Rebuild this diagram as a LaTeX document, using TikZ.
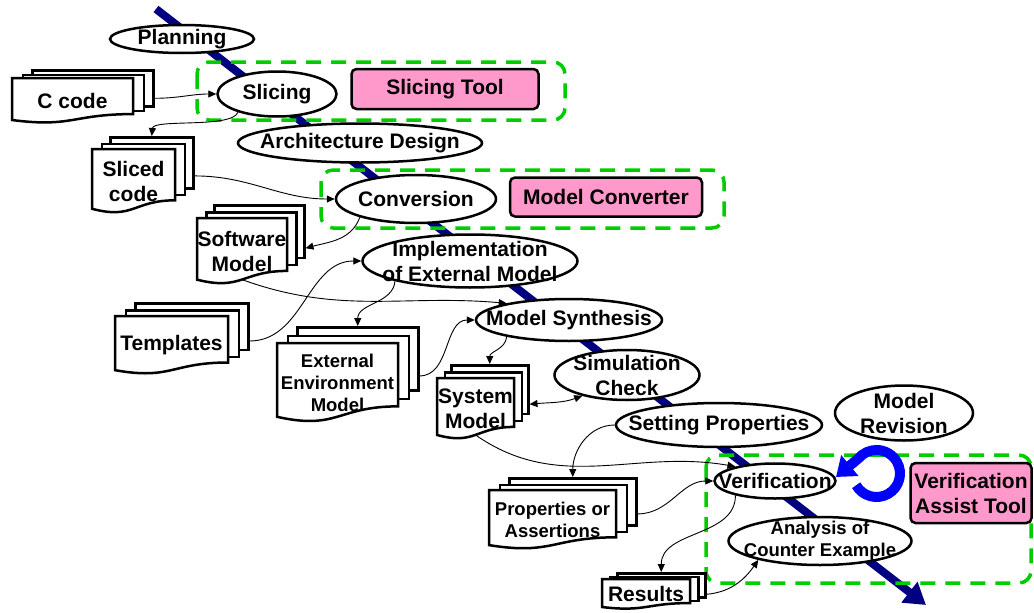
\documentclass[tikz,border=0pt]{standalone}
\usepackage{fontspec}
\setmainfont{Liberation Sans}
\usepackage{tikz}
\usetikzlibrary{arrows.meta, shapes.geometric}

\definecolor{spine}{RGB}{0,0,128}
\definecolor{toolpink}{RGB}{255,153,204}
\definecolor{grpgreen}{RGB}{0,204,0}

\tikzset{
  proc/.style={draw, ellipse, fill=white, line width=2.5pt, inner sep=0pt},
  lbl/.style={font=\fontsize{21}{25}\selectfont\bfseries, align=center, inner sep=0pt},
  slbl/.style={font=\fontsize{18.5}{22}\selectfont\bfseries, align=center, inner sep=0pt},
  tool/.style={draw, fill=toolpink, rounded corners=5pt, line width=2.5pt, font=\fontsize{21}{25}\selectfont\bfseries, align=center, inner sep=2pt},
  grp/.style={draw=grpgreen, line width=3.5pt, dash pattern=on 15pt off 10pt, rounded corners=12pt},
  sheet/.style={draw, fill=white, line width=2.5pt, inner sep=0pt, anchor=north west},
  link/.style={line width=0.9pt, -{Triangle[length=8pt, width=7pt]}},
  dlink/.style={line width=0.9pt, {Triangle[length=8pt, width=7pt]}-{Triangle[length=8pt, width=7pt]}},
}

% stack of three documents: name, x, y, width, height, dx, dy, text style, text
\newcommand{\docstack}[9]{%
  \node[sheet, minimum width=#4pt, minimum height=0.802*#5pt] (#1-b) at (#2+2*#6, #3-2*#7) {};
  \node[sheet, minimum width=#4pt, minimum height=0.802*#5pt] (#1-m) at (#2+#6, #3-#7) {};
  \filldraw[fill=white, line width=2.5pt] (#2,#3) -- (#2+#4,#3) -- (#2+#4,#3+0.802*#5)
    .. controls (#2+#4/2,#3+0.802*#5) and (#2+#4/2,#3+1.107*#5) .. (#2,#3+0.934*#5) -- cycle;
  \coordinate (#1-s) at (#2+#4/2, #3+0.933*#5);
  \node[#8] (#1) at (#2+#4/2, #3+#5/2) {#9};
}

\begin{document}
\begin{tikzpicture}[x=1pt, y=-1pt]
\useasboundingbox (0,0) rectangle (1034,613);

% process flow
\coordinate (top) at (156,9);
\coordinate (tip) at (926,605);
\draw[spine, line width=8pt, -{Triangle[length=21pt, width=25pt]}] (top) -- (tip);

% tool groups
\draw[grp] (197,62) rectangle (565,120);
\draw[grp] (321,170) rectangle (724,228);
\draw[grp] (706,455) rectangle (1031,583);

% documents
\docstack{ccode}{12}{78}{121}{45}{9.5}{4.5}{lbl}{C code}
\docstack{sliced}{92}{149}{83}{64}{8.5}{6.5}{lbl}{Sliced\\code}
\docstack{soft}{197}{218}{90}{66}{8}{7}{lbl}{Software\\Model}
\docstack{tmpl}{115}{316}{113}{58}{9.5}{7}{lbl}{Templates}
\docstack{eem}{277}{343}{121}{79}{9.5}{8.5}{slbl}{External\\Environment\\Model}
\docstack{sys}{437}{378}{77}{61}{6.5}{7}{lbl}{System\\Model}
\docstack{prop}{489}{490}{127}{59}{9.5}{6.5}{slbl}{Properties or\\Assertions}
\docstack{res}{602}{579}{88}{30}{7}{3.5}{lbl}{Results}

% steps
\node[proc, minimum width=144pt, minimum height=28pt, label={[lbl]center:Planning}] (plan) at (182,39) {};
\node[proc, minimum width=119pt, minimum height=45pt, label={[lbl]center:Slicing}] (slic) at (277,94) {};
\node[proc, minimum width=244pt, minimum height=39pt, label={[lbl]center:Architecture Design}] (arch) at (360,143) {};
\node[proc, minimum width=160pt, minimum height=48pt, label={[lbl]center:Conversion}] (conv) at (416,199) {};
\node[proc, minimum width=215pt, minimum height=53pt, label={[lbl]center:{Implementation\\of External Model}}] (impl) at (470,261) {};
\node[proc, minimum width=186pt, minimum height=42pt, label={[lbl]center:Model Synthesis}] (syn) at (569,320) {};
\node[proc, minimum width=145pt, minimum height=50pt, label={[lbl]center:{Simulation\\Check}}] (sim) at (627,375) {};
\node[proc, minimum width=206pt, minimum height=44pt, label={[lbl]center:Setting Properties}] (setp) at (719,425) {};
\node[proc, minimum width=138pt, minimum height=55pt, label={[lbl]center:{Model\\Revision}}] (rev) at (904,413) {};
\node[proc, minimum width=121pt, minimum height=35pt, label={[lbl]center:Verification}] (verif) at (775,481) {};
\node[proc, minimum width=183pt, minimum height=48pt, label={[slbl]center:{Analysis of\\Counter Example}}] (anal) at (820,541) {};

% tools
\node[tool, minimum width=187pt, minimum height=40pt] (slt) at (445,89) {Slicing Tool};
\node[tool, minimum width=192pt, minimum height=39pt] (mconv) at (606,197) {Model Converter};
\node[tool, minimum width=121pt, minimum height=60pt] (vat) at (971,493) {Verification\\Assist Tool};

% revision loop
\coordinate (loop) at (876.5,473.5);
\coordinate (loop-tip) at (836,477);
\draw[blue, line width=10pt, -{Triangle[length=18pt, width=26pt]}]
  ([shift={(210:23.5pt)}]loop) arc[start angle=210, end angle=500, radius=23.5pt] -- (loop-tip);

% data flow
\draw[link] ([yshift=-10pt]ccode-b.east) to[out=0, in=180] (slic.west);
\draw[link] (slic.205) to[out=250, in=85, looseness=0.5] (sliced-b.north);
\draw[link] ([yshift=-13pt]sliced-b.east) to[out=0, in=180] (conv.west);
\draw[link] (conv.198) to[out=250, in=15] ([yshift=-16.5pt]soft-b.east);
\draw[link] ([yshift=-14.5pt]tmpl-b.east) to[out=0, in=180] (impl.west);
\draw[link] (soft-s) to[out=-20, in=175] (syn.165);
\draw[link] (impl.195) to[out=265, in=90] (eem-b.north);
\draw[link] ([yshift=-17pt]eem-b.east) to[out=0, in=180] (syn.west);
\draw[link] (syn.195) to[out=265, in=90] (sys-b.north);
\draw[dlink] ([yshift=-14.5pt]sys-b.east) to[out=5, in=200] (sim.205);
\draw[link] (sys-s) to[out=-35, in=170] (verif.160);
\draw[link] (setp.west) to[out=180, in=90] (prop-b.north);
\draw[link] ([yshift=-12pt]prop-b.east) to[out=0, in=180] (verif.west);
\draw[link] (verif.200) to[out=270, in=90] (res-b.north);
\draw[link] ([yshift=-9pt]res-b.east) to[out=5, in=235] (anal.197);

\end{tikzpicture}
\end{document}
